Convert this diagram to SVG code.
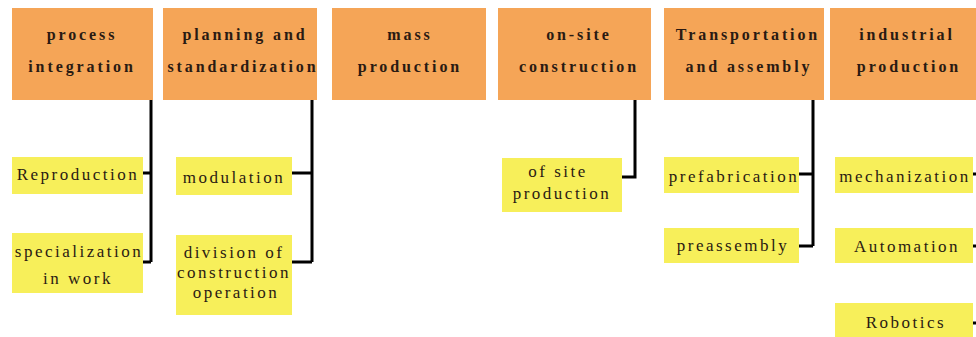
<svg xmlns="http://www.w3.org/2000/svg" width="976" height="337" viewBox="0 0 976 337">
<style>
.h{fill:#F5A557}
.y{fill:#F7EF5A}
.ht{font-family:"Liberation Serif",serif;font-weight:bold;font-size:16px;letter-spacing:2.9px;fill:#2a1a12;text-anchor:middle}
.yt{font-family:"Liberation Serif",serif;font-size:17px;letter-spacing:2.5px;fill:#2a1a12;text-anchor:middle}
.c{stroke:#000;stroke-width:3;fill:none}
</style>
<rect width="976" height="337" fill="#fff"/>
<g id="process-integration"><rect class="h" x="12" y="8" width="141" height="92"/><text class="ht"><tspan x="82" y="40">process</tspan><tspan x="82" y="72">integration</tspan></text></g>
<g id="planning"><rect class="h" x="163" y="8" width="154" height="92"/><text class="ht"><tspan x="245" y="40">planning and</tspan><tspan x="243" y="72">standardization</tspan></text></g>
<g id="mass-production"><rect class="h" x="332" y="8" width="154" height="92"/><text class="ht"><tspan x="410" y="40">mass</tspan><tspan x="410" y="72">production</tspan></text></g>
<g id="on-site"><rect class="h" x="498" y="8" width="153" height="92"/><text class="ht"><tspan x="579" y="40">on-site</tspan><tspan x="579" y="72">construction</tspan></text></g>
<g id="transportation"><rect class="h" x="664" y="8" width="160" height="92"/><text class="ht"><tspan x="748" y="40">Transportation</tspan><tspan x="749" y="72">and assembly</tspan></text></g>
<g id="industrial"><rect class="h" x="830" y="8" width="146" height="92"/><text class="ht"><tspan x="907" y="40">industrial</tspan><tspan x="909" y="72">production</tspan></text></g>

<g id="reproduction"><rect class="y" x="12" y="157" width="131" height="37"/><text class="yt" x="78" y="180">Reproduction</text></g>
<g id="specialization"><rect class="y" x="12" y="233" width="131" height="60"/><text class="yt"><tspan x="79" y="257">specialization</tspan><tspan x="78" y="284">in work</tspan></text></g>
<g id="modulation"><rect class="y" x="176" y="157" width="116" height="38"/><text class="yt" x="234" y="183">modulation</text></g>
<g id="division"><rect class="y" x="176" y="235" width="116" height="80"/><text class="yt"><tspan x="234" y="258">division of</tspan><tspan x="234" y="278">construction</tspan><tspan x="236" y="298">operation</tspan></text></g>
<g id="of-site"><rect class="y" x="502" y="158" width="120" height="54"/><text class="yt"><tspan x="558" y="177">of site</tspan><tspan x="562" y="199">production</tspan></text></g>
<g id="prefabrication"><rect class="y" x="664" y="157" width="135" height="36"/><text class="yt" x="734" y="182">prefabrication</text></g>
<g id="preassembly"><rect class="y" x="664" y="228" width="135" height="35"/><text class="yt" x="733" y="251">preassembly</text></g>
<g id="mechanization"><rect class="y" x="835" y="157" width="138" height="36"/><text class="yt" x="905" y="182">mechanization</text></g>
<g id="automation"><rect class="y" x="835" y="228" width="138" height="35"/><text class="yt" x="907" y="252">Automation</text></g>
<g id="robotics"><rect class="y" x="835" y="303" width="138" height="40"/><text class="yt" x="906" y="328">Robotics</text></g>

<g id="connectors" class="c">
<path d="M151 100V262M143 173H151M143 262H151"/>
<path d="M312 100V262M292 173H312M292 262H312"/>
<path d="M635 100V177H622"/>
<path d="M813 100V246M799 174H813M799 246H813"/>
<path d="M973 174H976M973 246H976M973 323H976"/>
</g>
</svg>
